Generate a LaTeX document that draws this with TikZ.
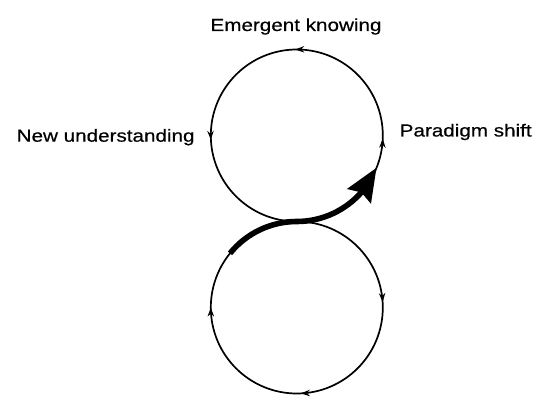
\documentclass[tikz,border=0pt]{standalone}
\usepackage{fontspec}
\setmainfont[FakeStretch=1.18, FakeBold=0.5]{Liberation Sans}
\usetikzlibrary{arrows.meta, bending, decorations.markings}

\begin{document}
\begin{tikzpicture}[
    x=0.5pt, y=0.5pt,
    >={Stealth[length=4.5pt, width=3.2pt]},
    cycleline/.style = {line width=0.85pt},
    phase/.style = {font=\fontsize{8.75}{10}\selectfont, inner sep=0pt},
    shiftarrow/.style = {line width=2.8pt, -{Stealth[length=16.5pt, width=13.5pt, inset=2pt, flex]}}
]
    \useasboundingbox (0,0) rectangle (534,396);

    % centres of the two loops
    \coordinate (upper) at (296.8,260.5);
    \coordinate (lower) at (296.8,88.5);

    % === UPPER LOOP ===
    \draw[cycleline, postaction={decorate}, decoration={markings,
            mark=at position 0.244 with {\arrow{>}},
            mark=at position 0.503 with {\arrow{>}},
            mark=at position 0.758 with {\arrow{>}}}]
        (upper) ++(270:43pt) arc[start angle=270, end angle=630, radius=43pt];

    % === LOWER LOOP ===
    \draw[cycleline, postaction={decorate}, decoration={markings,
            mark=at position 0.24 with {\arrow{>}},
            mark=at position 0.4925 with {\arrow{>}},
            mark=at position 0.75 with {\arrow{>}}}]
        (lower) ++(90:43pt) arc[start angle=90, end angle=-270, radius=43pt];

    % === SHIFT ===
    \draw[shiftarrow] (lower) ++(141:43pt)
        arc[start angle=141, end angle=90, radius=43pt]
        arc[start angle=270, end angle=338, radius=43pt];

    % === LABELS ===
    \node[phase, anchor=base] (emergent) at (296,365) {Emergent knowing};
    \node[phase, anchor=base east] (newunderstanding) at (195,254.3) {New understanding};
    \node[phase, anchor=base west] (paradigm) at (399.3,259.5) {Paradigm shift};

\end{tikzpicture}
\end{document}
